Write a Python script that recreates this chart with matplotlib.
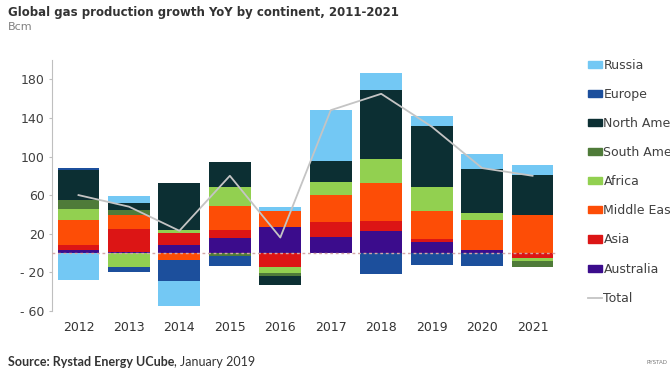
import matplotlib
matplotlib.use("Agg")
import matplotlib.pyplot as plt
import numpy as np
from matplotlib.lines import Line2D
from matplotlib.patches import Patch

years = ['2012', '2013', '2014', '2015', '2016', '2017', '2018', '2019', '2020', '2021']

# growth by continent, Bcm (stacking order: bottom first)
australia = [3.5, 1.0, 8.0, 16.0, 27.0, 16.6, 22.5, 11.5, 3.5, 0.0]
asia = [4.5, 24.0, 12.7, 8.3, -14.5, 15.5, 10.4, 2.8, 0.0, -5.7]
middle_east = [26.0, 14.0, -7.5, 24.2, 16.6, 27.6, 39.7, 28.7, 31.0, 39.0]
africa = [11.5, -15.0, 2.8, 20.0, -6.0, 13.8, 24.5, 24.9, 6.9, -2.8]
south_america = [9.0, 6.0, 0.0, -3.0, -3.0, 0.0, 0.0, 0.0, 0.0, -5.9]
north_america = [31.0, 6.3, 49.5, 26.0, -10.0, 21.8, 72.2, 63.9, 45.9, 41.5]
europe = [3.0, -4.6, -21.4, -10.0, 0.0, 0.0, -22.0, -12.8, -14.0, 0.0]
russia = [-28.0, 7.6, -26.0, 0.0, 4.0, 52.5, 17.3, 10.4, 15.5, 11.1]
total = [60, 48, 23, 80, 16, 148, 165, 131, 88, 80]

names = ['Australia', 'Asia', 'Middle East', 'Africa', 'South America',
         'North America', 'Europe', 'Russia']
colors = ['#3b0c8c', '#dc1515', '#fd4d06', '#92d050', '#4f7b39',
          '#0c2f33', '#1c4f9c', '#73c8f4']
series = [australia, asia, middle_east, africa, south_america,
          north_america, europe, russia]

fig = plt.figure(figsize=(6.7, 3.8), dpi=100)
ax = fig.add_axes([0.078, 0.182, 0.753, 0.66])

x = np.arange(len(years))
pos_bottom = np.zeros(len(years))
neg_bottom = np.zeros(len(years))
for vals, color in zip(series, colors):
    v = np.array(vals, dtype=float)
    p = np.where(v > 0, v, 0)
    n = np.where(v < 0, v, 0)
    ax.bar(x, p, 0.83, bottom=pos_bottom, color=color, linewidth=0, zorder=2)
    ax.bar(x, n, 0.83, bottom=neg_bottom, color=color, linewidth=0, zorder=2)
    pos_bottom += p
    neg_bottom += n

ax.axhline(0, color='#d3a6a6', lw=1, ls=(0, (2, 2)), zorder=3)
ax.plot(x, total, color='#c4c4c4', lw=1.3, zorder=4)

ax.set_xlim(-0.52, 9.48)
ax.set_ylim(-60, 200)
yt = [-60, -20, 20, 60, 100, 140, 180]
ax.set_yticks(yt)
ax.set_yticklabels([f'- {abs(t)}' if t < 0 else str(t) for t in yt])
ax.set_xticks(x)
ax.set_xticklabels(years)
ax.tick_params(axis='y', length=2.5, color='#bfbfbf', labelsize=9,
               labelcolor='#404040', pad=3)
ax.tick_params(axis='x', length=0, labelsize=9, labelcolor='#333333', pad=7)
for s in ['top', 'right', 'bottom']:
    ax.spines[s].set_visible(False)
ax.spines['left'].set_color('#bfbfbf')

handles = [Patch(color=c) for c in colors[::-1]] + \
    [Line2D([0], [0], color='#c4c4c4', lw=1.3)]
labels = names[::-1] + ['Total']
fig.legend(handles, labels, loc='upper left', bbox_to_anchor=(0.868, 0.862),
           frameon=False, fontsize=9, labelspacing=1.29, handlelength=1.1,
           handleheight=0.5, handletextpad=0.15, borderpad=0,
           labelcolor='#404040')

fig.text(0.012, 0.968, 'Global gas production growth YoY by continent, 2011-2021',
         fontsize=8.5, fontweight='bold', color='#333333', va='center')
fig.text(0.012, 0.928, 'Bcm', fontsize=8, color='#808080', va='center')
src = fig.text(0.012, 0.047, 'Source: Rystad Energy UCube', family='Lato',
               fontsize=9, fontweight='bold', color='#333333', va='center')
fig.canvas.draw()
bb = src.get_window_extent(renderer=fig.canvas.get_renderer())
fig.text(bb.x1 / fig.bbox.width, 0.047, ', January 2019', family='Lato',
         fontsize=9, color='#333333', va='center')
fig.text(0.965, 0.045, 'RYSTAD', fontsize=4, color='#777777', va='center')

fig.savefig('out.png', dpi=100)
